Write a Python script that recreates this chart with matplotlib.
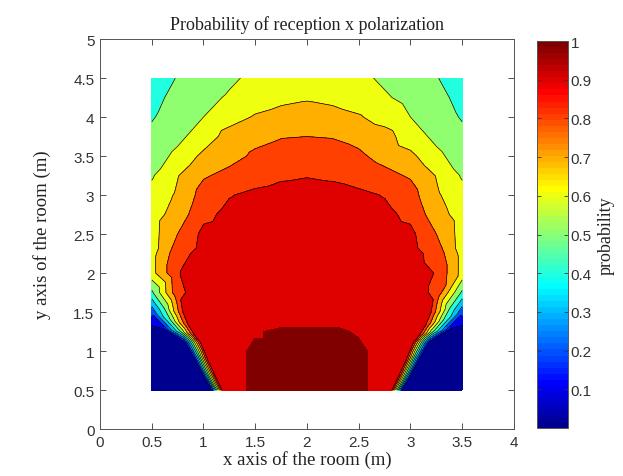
import numpy as np
import matplotlib
matplotlib.use('Agg')
import matplotlib.pyplot as plt
import matplotlib.tri as mtri
from matplotlib.colors import ListedColormap, Normalize
from matplotlib.cm import ScalarMappable

# grid of the room (m)
x_pos = [0.5, 0.75, 1.0, 1.25, 1.5, 1.75, 2.0, 2.25, 2.5, 2.75, 3.0, 3.25, 3.5]
y_pos = [4.5, 4.25, 4.0, 3.75, 3.5, 3.25, 3.0, 2.75, 2.5, 2.25, 2.0, 1.75, 1.5, 1.25, 1.0, 0.75, 0.5]

# probability of reception on the grid, one row per y value (top row first)
prob = [
    [0.45, 0.505, 0.545, 0.585, 0.62, 0.65, 0.665, 0.65, 0.62, 0.585, 0.545, 0.505, 0.45],
    [0.47, 0.53, 0.575, 0.61, 0.645, 0.675, 0.69, 0.675, 0.645, 0.61, 0.575, 0.53, 0.47],
    [0.49, 0.56, 0.60, 0.655, 0.71, 0.735, 0.745, 0.735, 0.71, 0.655, 0.60, 0.56, 0.49],
    [0.53, 0.58, 0.64, 0.745, 0.775, 0.795, 0.80, 0.795, 0.775, 0.745, 0.64, 0.58, 0.53],
    [0.56, 0.62, 0.725, 0.77, 0.815, 0.84, 0.85, 0.84, 0.815, 0.77, 0.725, 0.62, 0.56],
    [0.59, 0.695, 0.79, 0.825, 0.86, 0.885, 0.895, 0.885, 0.86, 0.825, 0.79, 0.695, 0.59],
    [0.63, 0.715, 0.84, 0.895, 0.92, 0.935, 0.94, 0.935, 0.92, 0.895, 0.84, 0.715, 0.63],
    [0.655, 0.745, 0.875, 0.925, 0.945, 0.955, 0.96, 0.955, 0.945, 0.925, 0.875, 0.745, 0.655],
    [0.66, 0.80, 0.925, 0.945, 0.955, 0.96, 0.965, 0.96, 0.955, 0.945, 0.925, 0.80, 0.66],
    [0.665, 0.86, 0.94, 0.955, 0.96, 0.965, 0.965, 0.965, 0.96, 0.955, 0.94, 0.86, 0.665],
    [0.665, 0.895, 0.945, 0.96, 0.965, 0.965, 0.97, 0.965, 0.965, 0.96, 0.945, 0.895, 0.665],
    [0.48, 0.88, 0.945, 0.96, 0.965, 0.97, 0.97, 0.97, 0.965, 0.96, 0.945, 0.88, 0.48],
    [0.23, 0.78, 0.945, 0.95, 0.95, 0.95, 0.95, 0.95, 0.95, 0.95, 0.945, 0.78, 0.23],
    [0.04, 0.42, 0.955, 0.95, 0.985, 1.0, 1.0, 1.0, 0.985, 0.95, 0.955, 0.42, 0.04],
    [0.0, 0.0, 0.84, 0.97, 1.0, 1.0, 1.0, 1.0, 1.0, 0.97, 0.84, 0.0, 0.0],
    [0.0, 0.0, 0.32, 0.97, 1.0, 1.0, 1.0, 1.0, 1.0, 0.97, 0.32, 0.0, 0.0],
    [0.0, 0.0, 0.0, 0.97, 1.0, 1.0, 1.0, 1.0, 1.0, 0.97, 0.0, 0.0, 0.0],
]

# extra readings along the steep edge near the two bottom corners
corner_x = [0.60, 0.70, 0.82, 0.88, 0.94, 0.99, 1.04, 1.08,
            0.62, 0.68, 0.78, 0.895, 0.95, 1.00, 1.045, 1.09, 1.13,
            0.78, 0.80, 0.85, 0.91, 0.97, 1.01, 1.05, 1.10, 1.14, 1.18,
            3.40, 3.30, 3.18, 3.12, 3.06, 3.01, 2.96, 2.92,
            3.38, 3.32, 3.22, 3.105, 3.05, 3.00, 2.955, 2.91, 2.87,
            3.22, 3.20, 3.15, 3.09, 3.03, 2.99, 2.95, 2.90, 2.86, 2.82]
corner_y = [1.29, 1.21, 1.11, 0.97, 0.83, 0.70, 0.59, 0.50,
            1.55, 1.40, 1.25, 1.11, 0.97, 0.83, 0.70, 0.59, 0.50,
            1.66, 1.50, 1.34, 1.21, 1.11, 0.99, 0.86, 0.72, 0.61, 0.50,
            1.29, 1.21, 1.11, 0.97, 0.83, 0.70, 0.59, 0.50,
            1.55, 1.40, 1.25, 1.11, 0.97, 0.83, 0.70, 0.59, 0.50,
            1.66, 1.50, 1.34, 1.21, 1.11, 0.99, 0.86, 0.72, 0.61, 0.50]
corner_p = [0.1, 0.1, 0.1, 0.1, 0.1, 0.1, 0.1, 0.1,
            0.5, 0.5, 0.5, 0.5, 0.5, 0.5, 0.5, 0.5, 0.5,
            0.9, 0.9, 0.9, 0.9, 0.9, 0.9, 0.9, 0.9, 0.9, 0.9,
            0.1, 0.1, 0.1, 0.1, 0.1, 0.1, 0.1, 0.1,
            0.5, 0.5, 0.5, 0.5, 0.5, 0.5, 0.5, 0.5, 0.5,
            0.9, 0.9, 0.9, 0.9, 0.9, 0.9, 0.9, 0.9, 0.9, 0.9]

# contour levels (lower edge of every filled band)
band_levels = [0.0, 0.1, 0.2, 0.3, 0.4, 0.5, 0.6, 0.7, 0.8, 0.9, 1.0]
line_levels = [0.1, 0.2, 0.3, 0.4, 0.5, 0.6, 0.7, 0.8, 0.9]
cbar_ticks = [0.1, 0.2, 0.3, 0.4, 0.5, 0.6, 0.7, 0.8, 0.9, 1.0]


def matlab_jet(m=64):
    """The jet colormap the way MATLAB builds it."""
    n = int(np.ceil(m / 4))
    u = np.concatenate([np.arange(1, n + 1) / n, np.ones(n - 1), np.arange(n, 0, -1) / n])
    g = int(np.ceil(n / 2)) - int(m % 4 == 1) + np.arange(1, len(u) + 1)
    r = g + n
    b = g - n
    J = np.zeros((m, 3))
    for col, idx in enumerate([r, g, b]):
        ok = (idx >= 1) & (idx <= m)
        J[idx[ok] - 1, col] = u[ok]
    return ListedColormap(J)


jet = matlab_jet(64)
X, Y = np.meshgrid(x_pos, y_pos)
px = np.concatenate([X.ravel(), corner_x])
py = np.concatenate([Y.ravel(), corner_y])
pz = np.concatenate([np.array(prob).ravel(), corner_p])
triang = mtri.Triangulation(px, py)

fig = plt.figure(figsize=(6.23, 4.77), dpi=100)
ax = fig.add_axes([0.1605, 0.0985, 0.6645, 0.8176])

# filled bands, the last one holds the points that reach 1
fill_levels = [-0.01] + band_levels[1:-1] + [0.99, 1.01]
fill_colors = [jet(v) for v in band_levels]
ax.tricontourf(triang, pz, levels=fill_levels, colors=fill_colors)
ax.tricontour(triang, pz, levels=line_levels, colors='k', linewidths=0.5)

ax.set_xlim(0, 4)
ax.set_ylim(0, 5)
ax.set_xticks([0, 0.5, 1, 1.5, 2, 2.5, 3, 3.5, 4])
ax.set_xticklabels(['0', '0.5', '1', '1.5', '2', '2.5', '3', '3.5', '4'])
ax.set_yticks([0, 0.5, 1, 1.5, 2, 2.5, 3, 3.5, 4, 4.5, 5])
ax.set_yticklabels(['0', '0.5', '1', '1.5', '2', '2.5', '3', '3.5', '4', '4.5', '5'])

tick_font = {'family': 'Liberation Sans', 'size': 11}
for lab in ax.get_xticklabels() + ax.get_yticklabels():
    lab.set_fontfamily(tick_font['family'])
    lab.set_fontsize(tick_font['size'])
    lab.set_color('#333333')
ax.tick_params(direction='in', length=4, width=0.6, top=True, right=True, color='#333333', pad=4)
for sp in ax.spines.values():
    sp.set_color('#555555')
    sp.set_linewidth(0.7)

serif = 'Liberation Serif'
ax.set_title('Probability of reception x polarization', family=serif, fontsize=13, pad=7, color='#222222')
ax.set_xlabel('x axis of the room (m)', family=serif, fontsize=13.5, labelpad=1, color='#222222')
ax.set_ylabel('y axis of the room (m)', family=serif, fontsize=13.5, labelpad=16, color='#222222')

# colorbar
cax = fig.add_axes([0.862, 0.1005, 0.0498, 0.8113])
sm = ScalarMappable(norm=Normalize(vmin=0, vmax=1), cmap=jet)
cb = fig.colorbar(sm, cax=cax, ticks=cbar_ticks)
cb.ax.set_yticklabels(['0.1', '0.2', '0.3', '0.4', '0.5', '0.6', '0.7', '0.8', '0.9', '1'])
for lab in cb.ax.get_yticklabels():
    lab.set_fontfamily(tick_font['family'])
    lab.set_fontsize(tick_font['size'])
    lab.set_color('#333333')
cb.ax.tick_params(direction='in', length=3, width=0.6, left=True, right=True, color='#333333', pad=2)
cb.outline.set_edgecolor('#555555')
cb.outline.set_linewidth(0.7)
cb.set_label('probability', family=serif, fontsize=13, labelpad=4, color='#222222')

fig.savefig('out.png', dpi=100)
